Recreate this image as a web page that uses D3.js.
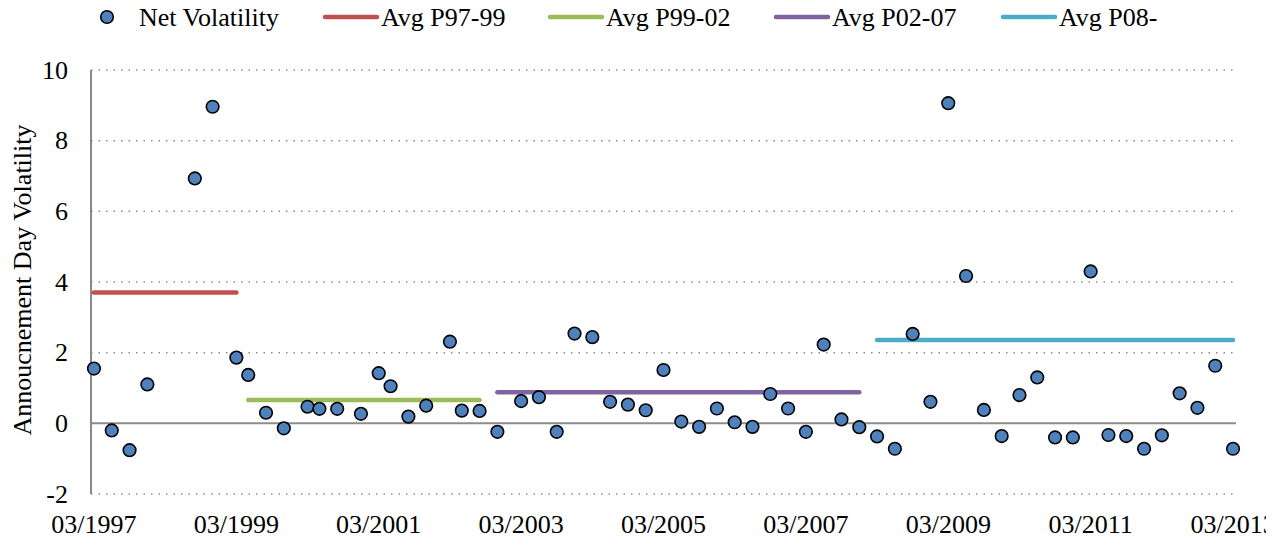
<!DOCTYPE html>
<html>
<head>
<meta charset="utf-8">
<script src="https://cdn.jsdelivr.net/npm/d3@7"></script>
<style>
  html, body { margin: 0; padding: 0; background: #fff; }
  svg { display: block; }
  svg text { font-family: "Liberation Serif", Tinos, "Times New Roman", "DejaVu Serif", serif !important; fill: #000; }
</style>
</head>
<body>
<svg id="chart" width="1278" height="543"></svg>
<script>
// ---- data ----
const months = ["1997-03","1997-06","1997-09","1997-12","1998-08","1998-11","1999-03","1999-05","1999-08","1999-11",
  "2000-03","2000-05","2000-08","2000-12","2001-03","2001-05","2001-08","2001-11","2002-03","2002-05","2002-08","2002-11",
  "2003-03","2003-06","2003-09","2003-12","2004-03","2004-06","2004-09","2004-12","2005-03","2005-06","2005-09","2005-12",
  "2006-03","2006-06","2006-09","2006-12","2007-03","2007-06","2007-09","2007-12","2008-03","2008-06","2008-09","2008-12",
  "2009-03","2009-06","2009-09","2009-12","2010-03","2010-06","2010-09","2010-12","2011-03","2011-06","2011-09","2011-12",
  "2012-03","2012-06","2012-09","2012-12","2013-03"];
const netVolatility = [1.55,-0.20,-0.76,1.10,6.93,8.96,1.86,1.37,0.30,-0.14,
  0.47,0.41,0.41,0.27,1.42,1.05,0.19,0.50,2.31,0.36,0.35,-0.24,
  0.63,0.74,-0.24,2.54,2.44,0.61,0.53,0.37,1.51,0.05,-0.10,0.42,
  0.03,-0.10,0.83,0.42,-0.24,2.23,0.11,-0.11,-0.37,-0.72,2.53,0.61,
  9.06,4.17,0.38,-0.36,0.80,1.30,-0.40,-0.40,4.30,-0.33,-0.36,-0.72,
  -0.34,0.85,0.44,1.63,-0.72];
const avgNames  = ["Avg P97-99","Avg P99-02","Avg P02-07","Avg P08-"];
const avgStart  = ["1997-03","1999-05","2002-11","2008-03"];
const avgEnd    = ["1999-03","2002-08","2007-12","2013-03"];
const avgValues = [3.70, 0.66, 0.88, 2.36];
const avgColors = ["#C0504D","#9BBB59","#8064A2","#4BACC6"];
const yTicks = [-2,0,2,4,6,8,10];
const xTickMonths = ["1997-03","1999-03","2001-03","2003-03","2005-03","2007-03","2009-03","2011-03","2013-03"];
const seriesName = "Net Volatility";
const yTitle = "Annoucnement Day Volatility";

// ---- layout ----
const svg = d3.select("#chart");
const L = 91, R = 1236, T = 70, B = 494;
const FS = 26;
const FF = "Liberation Serif";

const parseM = d3.timeParse("%Y-%m");
const fmtM = d3.timeFormat("%Y-%m");
const allMonths = d3.timeMonth.range(parseM("1997-03"), parseM("2013-04")).map(fmtM);
const x = d3.scaleBand().domain(allMonths).range([L, R]).paddingInner(0).paddingOuter(0);
const xc = m => x(m) + x.bandwidth() / 2;
const y = d3.scaleLinear().domain([-2, 10]).range([B, T]);

// clip for right edge of labels
svg.append("defs").append("clipPath").attr("id", "clipR")
  .append("rect").attr("x", 0).attr("y", 0).attr("width", 1266).attr("height", 543);

// gridlines
svg.append("g").selectAll("line").data(yTicks.filter(v => v !== 0)).join("line")
  .attr("x1", L).attr("x2", R).attr("y1", d => y(d)).attr("y2", d => y(d))
  .attr("stroke", "#8c8c8c").attr("stroke-width", 1.5).attr("stroke-dasharray", "1.5,6");

// y axis
const yAxis = svg.append("g").attr("transform", `translate(${L},0)`)
  .call(d3.axisLeft(y).tickValues(yTicks).tickSize(0).tickPadding(23).tickFormat(d => String(d)));
yAxis.attr("font-family", FF).attr("font-size", FS);
yAxis.select(".domain").remove();
yAxis.selectAll("text").attr("dy", "0.32em");
svg.append("line").attr("x1", L).attr("x2", L).attr("y1", T).attr("y2", B)
  .attr("stroke", "#888").attr("stroke-width", 2);

// zero line
svg.append("line").attr("x1", L).attr("x2", R).attr("y1", y(0)).attr("y2", y(0))
  .attr("stroke", "#8c8c8c").attr("stroke-width", 2);

// x axis labels
const xAxis = svg.append("g").attr("transform", `translate(0,${B})`).attr("clip-path", "url(#clipR)")
  .call(d3.axisBottom(x).tickValues(xTickMonths).tickSize(0).tickPadding(0)
    .tickFormat(m => d3.timeFormat("%m/%Y")(parseM(m))));
xAxis.attr("font-family", FF).attr("font-size", FS);
xAxis.select(".domain").remove();
xAxis.selectAll("text").attr("dy", null).attr("y", 39);

// y title
svg.append("text").attr("transform", `translate(31,280) rotate(-90)`)
  .attr("text-anchor", "middle").attr("font-family", FF).attr("font-size", FS).text(yTitle);

// average lines
svg.append("g").selectAll("line").data(avgValues).join("line")
  .attr("x1", (d, i) => xc(avgStart[i])).attr("x2", (d, i) => xc(avgEnd[i]))
  .attr("y1", d => y(d)).attr("y2", d => y(d))
  .attr("stroke", (d, i) => avgColors[i]).attr("stroke-width", 4.5).attr("stroke-linecap", "round");

// points
svg.append("g").selectAll("circle").data(netVolatility).join("circle")
  .attr("cx", (d, i) => xc(months[i])).attr("cy", d => y(d)).attr("r", 6.3)
  .attr("fill", "#4F81BD").attr("stroke", "#000").attr("stroke-width", 1.6);

// legend
const lg = svg.append("g").attr("font-family", FF).attr("font-size", FS);
const ly = 17, lb = 26;
lg.append("circle").attr("cx", 107).attr("cy", ly).attr("r", 6.3)
  .attr("fill", "#4F81BD").attr("stroke", "#000").attr("stroke-width", 1.6);
lg.append("text").attr("x", 139).attr("y", lb).text(seriesName);
const lineX = [325, 550, 776, 1003];
avgNames.forEach((nm, i) => {
  lg.append("line").attr("x1", lineX[i]).attr("x2", lineX[i] + 52).attr("y1", ly).attr("y2", ly)
    .attr("stroke", avgColors[i]).attr("stroke-width", 4.5).attr("stroke-linecap", "round");
  lg.append("text").attr("x", lineX[i] + 56).attr("y", lb).text(nm);
});
</script>
</body>
</html>
